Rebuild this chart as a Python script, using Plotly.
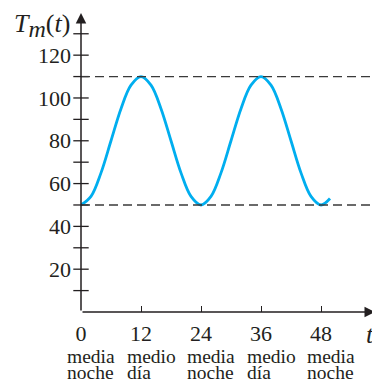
import plotly.graph_objects as go

# hours and temperature
hours = [0, 2, 4, 6, 8, 10, 12, 14, 16, 18, 20, 22, 24, 26, 28, 30, 32, 34, 36, 38, 40, 42, 44, 46, 48, 49.8]
temp = [50, 54, 65, 80, 95, 106, 110, 106, 95, 80, 65, 54, 50, 54, 65, 80, 95, 106, 110, 106, 95, 80, 65, 54, 50, 53]

t_max = 110
t_min = 50

# axis ticks
x_ticks = [0, 12, 24, 36, 48]
x_labels = ['0', '12', '24', '36', '48']
words_top = ['media', 'medio', 'media', 'medio', 'media']
words_bottom = ['noche', 'día', 'noche', 'día', 'noche']
y_ticks = [10, 20, 30, 40, 50, 60, 70, 80, 90, 100, 110, 120, 130]
y_labels = ['', '20', '', '40', '', '60', '', '80', '', '100', '', '120', '']

x_end = 59.8    # right edge of the plot
x_arrow = 58.8  # tip of the t arrow
y_end = 139.7   # tip of the T arrow

serif = 'Liberation Serif'
ink = '#231f20'

fig = go.Figure()

fig.add_trace(go.Scatter(x=hours, y=temp, mode='lines', line=dict(color='#00aeef', width=2.8, shape='spline'),
                         hoverinfo='skip', showlegend=False))

# tick marks crossing the vertical axis
fig.add_trace(go.Scatter(x=[0] * len(y_ticks), y=y_ticks, mode='markers',
                         marker=dict(symbol='line-ew', size=11, line=dict(color=ink, width=1.3)),
                         cliponaxis=False, hoverinfo='skip', showlegend=False))

# dashed max / min lines
for level in [t_max, t_min]:
    fig.add_shape(type='line', xref='x', yref='y', x0=0, x1=x_end, y0=level, y1=level,
                  line=dict(color='#3a3a3a', width=1.3, dash='9px,5px'))

# axes with arrows
fig.add_annotation(x=x_arrow, y=0, ax=0, ay=0, xref='x', yref='y', axref='x', ayref='y', text='',
                   showarrow=True, arrowhead=2, arrowsize=1.4, arrowwidth=1.5, arrowcolor=ink, standoff=0)
fig.add_annotation(x=0, y=y_end, ax=0, ay=0, xref='x', yref='y', axref='x', ayref='y', text='',
                   showarrow=True, arrowhead=2, arrowsize=1.4, arrowwidth=1.5, arrowcolor=ink, standoff=0)

# words under the hour labels
for i, t in enumerate(x_ticks):
    fig.add_annotation(x=t, y=0, xref='x', yref='paper', text=words_top[i], showarrow=False,
                       xanchor='left', yanchor='middle', xshift=-16, yshift=-44,
                       font=dict(family=serif, size=19.5, color=ink))
    fig.add_annotation(x=t, y=0, xref='x', yref='paper', text=words_bottom[i], showarrow=False,
                       xanchor='left', yanchor='middle', xshift=-16, yshift=-60,
                       font=dict(family=serif, size=19.5, color=ink))

fig.add_annotation(x=1, y=0, xref='paper', yref='paper', text='<i>t</i>', showarrow=False,
                   xanchor='right', yanchor='middle', xshift=-4, yshift=-22,
                   font=dict(family=serif, size=26, color=ink))
fig.add_annotation(x=0, y=1, xref='paper', yref='paper',
                   text="<i>T</i><sub><span style='font-size:24px'><i>m</i></span></sub>(<i>t</i>)",
                   showarrow=False, xanchor='right', yanchor='middle', xshift=-9, yshift=-12,
                   font=dict(family=serif, size=26, color=ink))

# the page body adds an 8 px margin, so the figure is drawn 8 px smaller
fig.update_layout(
    width=372, height=373,
    margin=dict(l=73, r=0, t=5, b=69),
    paper_bgcolor='white', plot_bgcolor='white',
    xaxis=dict(range=[0, x_end], showgrid=False, zeroline=False, showline=False,
               tickvals=x_ticks, ticktext=x_labels, ticks='inside', ticklen=6, tickwidth=1.3, tickcolor=ink,
               tickfont=dict(family=serif, size=22, color=ink), ticklabelstandoff=6),
    yaxis=dict(range=[0, y_end], showgrid=False, zeroline=False, showline=False,
               tickvals=y_ticks, ticktext=y_labels, ticks='',
               tickfont=dict(family=serif, size=22, color=ink), ticklabelstandoff=9),
)

fig.write_html('out.html')
